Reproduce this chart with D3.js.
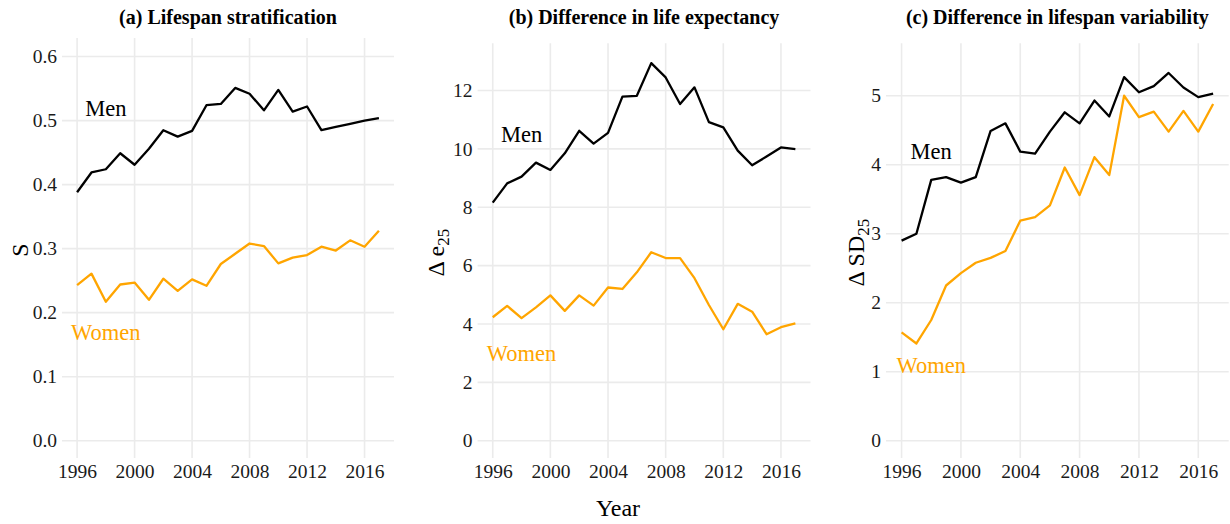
<!DOCTYPE html>
<html>
<head>
<meta charset="utf-8">
<script src="https://cdn.jsdelivr.net/npm/d3@7"></script>
<style>
  body { margin: 0; background: #fff; }
  svg text { font-family: "Liberation Serif", "Times New Roman", serif; }
</style>
</head>
<body>
<div id="vis"></div>
<script>
// datos
const years = d3.range(1996, 2018);
const xTicks = [1996, 2000, 2004, 2008, 2012, 2016];

// (a) estratificacion
const sMen = [0.388, 0.419, 0.424, 0.449, 0.431, 0.456, 0.485, 0.475, 0.484, 0.524, 0.526, 0.551,
  0.542, 0.516, 0.548, 0.514, 0.522, 0.485, 0.490, 0.495, 0.500, 0.504];
const sWomen = [0.243, 0.261, 0.217, 0.244, 0.247, 0.220, 0.253, 0.234, 0.252, 0.242, 0.276, 0.292,
  0.308, 0.304, 0.277, 0.286, 0.290, 0.303, 0.297, 0.313, 0.303, 0.328];
const sTicks = [0, 0.1, 0.2, 0.3, 0.4, 0.5, 0.6];

// (b) diferencia en esperanza de vida
const e25Men = [8.16, 8.82, 9.05, 9.53, 9.28, 9.85, 10.62, 10.18, 10.55, 11.79, 11.82, 12.94,
  12.45, 11.54, 12.11, 10.92, 10.74, 9.94, 9.44, 9.74, 10.05, 9.99];
const e25Women = [4.23, 4.62, 4.20, 4.57, 4.98, 4.45, 4.98, 4.63, 5.25, 5.20, 5.77, 6.46,
  6.26, 6.26, 5.57, 4.65, 3.82, 4.69, 4.42, 3.65, 3.89, 4.02];
const e25Ticks = [0, 2, 4, 6, 8, 10, 12];

// (c) diferencia en variabilidad
const sd25Men = [2.90, 3.00, 3.78, 3.82, 3.74, 3.82, 4.49, 4.60, 4.19, 4.16, 4.48, 4.76,
  4.60, 4.93, 4.70, 5.27, 5.05, 5.14, 5.33, 5.12, 4.98, 5.03];
const sd25Women = [1.57, 1.41, 1.75, 2.25, 2.43, 2.58, 2.65, 2.75, 3.19, 3.24, 3.41, 3.96,
  3.56, 4.11, 3.85, 5.00, 4.69, 4.77, 4.48, 4.78, 4.48, 4.88];
const sd25Ticks = [0, 1, 2, 3, 4, 5];

const titles = ["(a) Lifespan stratification", "(b) Difference in life expectancy", "(c) Difference in lifespan variability"];
const labelYear = 1998;

const colMen = "#000000";
const colWomen = "#FFA500";
const gridCol = "#EBEBEB";

const svg = d3.select("#vis").append("svg")
  .attr("width", 1230)
  .attr("height", 524);

// paneles: posicion y dominio de cada uno
const panels = [
  { title: titles[0], men: sMen, women: sWomen, ticks: sTicks, fmt: d3.format(".1f"),
    left: 62, right: 394, top: 38, bottom: 458, yDom: [-0.027, 0.629],
    menLab: 0.52, womenLab: 0.17, ylab: "S", ylabX: 28 },
  { title: titles[1], men: e25Men, women: e25Women, ticks: e25Ticks, fmt: d3.format("d"),
    left: 477.6, right: 810.5, top: 43.3, bottom: 458, yDom: [-0.593, 13.62],
    menLab: 10.5, womenLab: 3.0, ylab: ["\u0394 e", "25"], ylabX: 443.5 },
  { title: titles[2], men: sd25Men, women: sd25Women, ticks: sd25Ticks, fmt: d3.format("d"),
    left: 886, right: 1228.7, top: 43.3, bottom: 458, yDom: [-0.25, 5.76],
    menLab: 4.2, womenLab: 1.1, ylab: ["\u0394 SD", "25"], ylabX: 863.5 }
];

panels.forEach(p => {
  const x = d3.scaleLinear().domain([1994.95, 2018.05]).range([p.left, p.right]);
  const y = d3.scaleLinear().domain(p.yDom).range([p.bottom, p.top]);
  const g = svg.append("g");

  // rejilla
  g.selectAll("line.hgrid")
    .data(p.ticks)
    .enter()
    .append("line")
    .attr("x1", p.left).attr("x2", p.right)
    .attr("y1", d => y(d)).attr("y2", d => y(d))
    .attr("stroke", gridCol).attr("stroke-width", 1.6);

  g.selectAll("line.vgrid")
    .data(xTicks)
    .enter()
    .append("line")
    .attr("x1", d => x(d)).attr("x2", d => x(d))
    .attr("y1", p.top).attr("y2", p.bottom)
    .attr("stroke", gridCol).attr("stroke-width", 1.6);

  // ejes (solo texto)
  const yAxis = d3.axisLeft(y).tickValues(p.ticks).tickFormat(p.fmt).tickSize(0).tickPadding(5);
  const ya = g.append("g").attr("transform", `translate(${p.left},0)`).call(yAxis);
  ya.select(".domain").remove();
  ya.selectAll("text").attr("font-size", 19.5).attr("fill", "#1a1a1a")
    .style("font-family", "'Liberation Serif', serif");

  const xAxis = d3.axisBottom(x).tickValues(xTicks).tickFormat(d3.format("d")).tickSize(0).tickPadding(6);
  const xa = g.append("g").attr("transform", `translate(0,${p.bottom})`).call(xAxis);
  xa.select(".domain").remove();
  xa.selectAll("text").attr("font-size", 19.5).attr("fill", "#1a1a1a")
    .style("font-family", "'Liberation Serif', serif");

  // lineas
  const line = d3.line().x((d, i) => x(years[i])).y(d => y(d));
  g.append("path").datum(p.men)
    .attr("d", line).attr("fill", "none")
    .attr("stroke", colMen).attr("stroke-width", 2.3).attr("stroke-linejoin", "round");
  g.append("path").datum(p.women)
    .attr("d", line).attr("fill", "none")
    .attr("stroke", colWomen).attr("stroke-width", 2.3).attr("stroke-linejoin", "round");

  // etiquetas Men / Women
  g.append("text")
    .attr("x", x(labelYear)).attr("y", y(p.menLab)).attr("dy", "0.35em")
    .attr("text-anchor", "middle").attr("font-size", 22.5).attr("fill", colMen)
    .text("Men");
  g.append("text")
    .attr("x", x(labelYear)).attr("y", y(p.womenLab)).attr("dy", "0.35em")
    .attr("text-anchor", "middle").attr("font-size", 22.5).attr("fill", colWomen)
    .text("Women");

  // titulo
  g.append("text")
    .attr("x", (p.left + p.right) / 2).attr("y", 24)
    .attr("text-anchor", "middle").attr("font-size", 20).attr("font-weight", "bold")
    .text(p.title);

  // titulo eje y
  const yt = g.append("text")
    .attr("transform", `translate(${p.ylabX},${(p.top + p.bottom) / 2 + 2}) rotate(-90)`)
    .attr("text-anchor", "middle").attr("font-size", 24);
  if (typeof p.ylab === "string") {
    yt.text(p.ylab);
  } else {
    yt.append("tspan").text(p.ylab[0]);
    yt.append("tspan").attr("dy", "0.3em").attr("font-size", 17).text(p.ylab[1]);
  }
});

// titulo eje x
svg.append("text")
  .attr("x", 618).attr("y", 516)
  .attr("text-anchor", "middle").attr("font-size", 24)
  .text("Year");
</script>
</body>
</html>
